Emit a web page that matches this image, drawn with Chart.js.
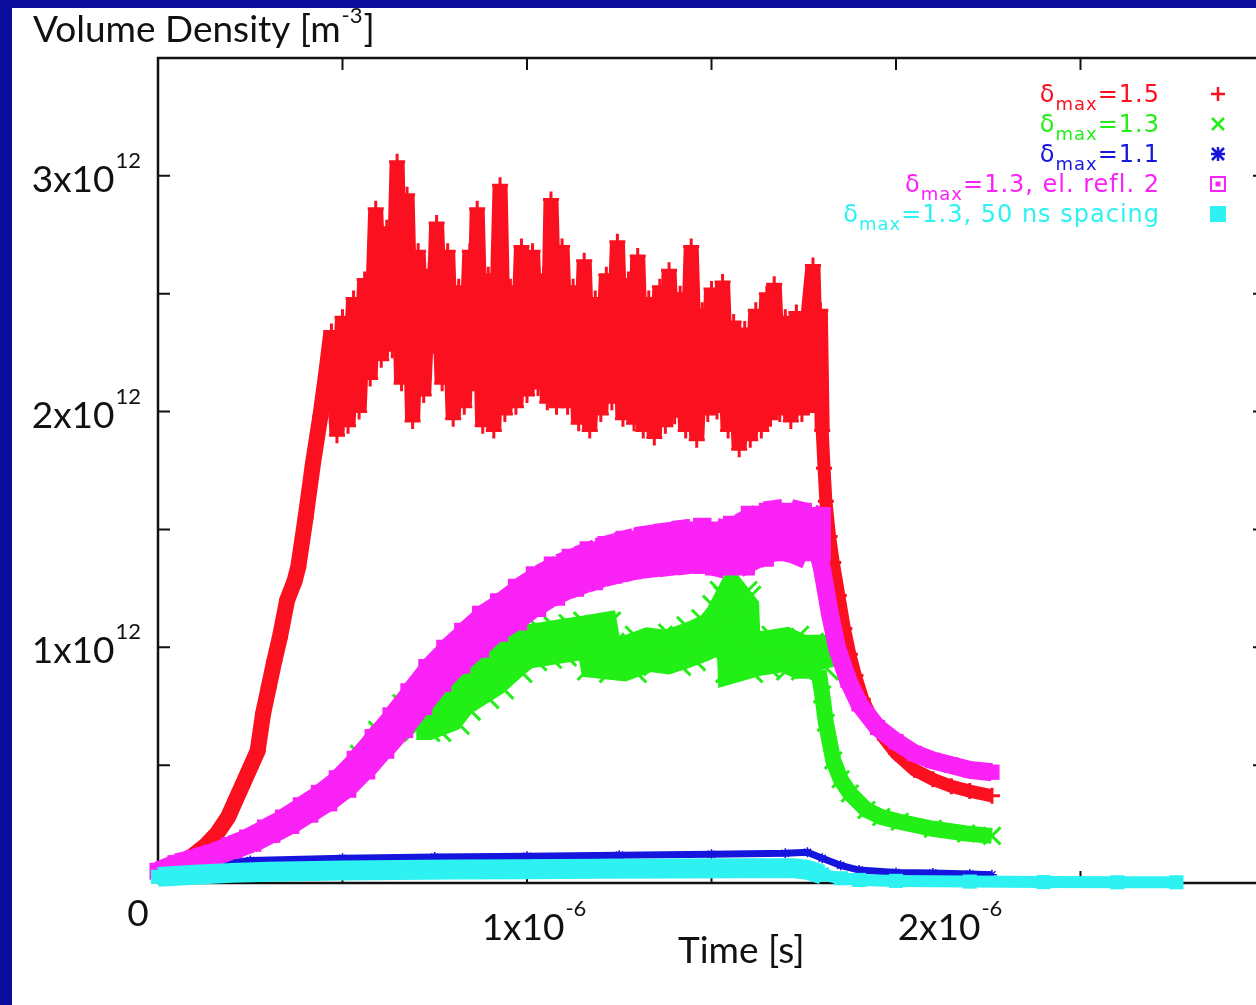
<!DOCTYPE html>
<html>
<head>
<meta charset="utf-8">
<title>Volume Density</title>
<script src="https://cdn.jsdelivr.net/npm/chart.js@4.4.1/dist/chart.umd.min.js"></script>
<style>
  html, body { margin: 0; padding: 0; background: #0b0b9c; overflow: hidden; }
  body { width: 1256px; height: 1005px; position: relative; }
  #panel { position: absolute; left: 12px; top: 8px; width: 1257px; height: 997px; background: #fff; }
  canvas { display: block; }
</style>
</head>
<body>
<div id="panel"><canvas id="chart" width="1257" height="997"></canvas></div>
<script>
// ================== Dados ==================
// tempo em unidades de 1e-6 s, densidade em unidades de 1e12 m^-3

// δmax=1.5 (vermelho, bem ruidoso no platô)
const delta15 = [
  [0.00, 0.05], [0.04, 0.07], [0.09, 0.11], [0.13, 0.16], [0.16, 0.21], [0.19, 0.28],
  [0.21, 0.35], [0.23, 0.42], [0.25, 0.49], [0.27, 0.56], [0.285, 0.72], [0.30, 0.83],
  [0.315, 0.94], [0.33, 1.04], [0.35, 1.20], [0.37, 1.28], [0.38, 1.34], [0.40, 1.55],
  [0.42, 1.78], [0.44, 1.98], [0.455, 2.15],
  [0.47, 2.34], [0.485, 1.90], [0.50, 2.40], [0.515, 1.94], [0.53, 2.48], [0.545, 2.00],
  [0.56, 2.56], [0.575, 2.14], [0.59, 2.86], [0.605, 2.22], [0.62, 2.78], [0.635, 2.26],
  [0.648, 3.06], [0.66, 2.12], [0.675, 2.92], [0.69, 1.96], [0.705, 2.68], [0.72, 2.07],
  [0.735, 2.60], [0.745, 2.28], [0.755, 2.80], [0.77, 2.12], [0.785, 2.68], [0.80, 1.97],
  [0.815, 2.53], [0.83, 2.02], [0.845, 2.68], [0.855, 2.12], [0.865, 2.86], [0.88, 1.94],
  [0.895, 2.58], [0.91, 1.92], [0.927, 2.96], [0.94, 1.99], [0.955, 2.53], [0.97, 2.02],
  [0.985, 2.70], [1.00, 2.07], [1.015, 2.68], [1.03, 2.10], [1.045, 2.58], [1.055, 2.04],
  [1.065, 2.90], [1.08, 2.02], [1.095, 2.70], [1.11, 2.02], [1.125, 2.53], [1.14, 1.95],
  [1.155, 2.64], [1.17, 1.92], [1.185, 2.48], [1.20, 1.99], [1.215, 2.58], [1.23, 2.04],
  [1.245, 2.72], [1.26, 1.97], [1.275, 2.56], [1.29, 1.95], [1.30, 2.66], [1.315, 1.92],
  [1.33, 2.48], [1.345, 1.89], [1.36, 2.53], [1.375, 1.94], [1.385, 2.60], [1.40, 1.98],
  [1.415, 2.50], [1.43, 1.92], [1.445, 2.70], [1.46, 1.88], [1.475, 2.43], [1.49, 1.99],
  [1.50, 2.52], [1.515, 2.00], [1.53, 2.55], [1.545, 1.92], [1.56, 2.38], [1.575, 1.84],
  [1.59, 2.35], [1.605, 1.88], [1.62, 2.43], [1.635, 1.92], [1.65, 2.50], [1.66, 1.97],
  [1.67, 2.54], [1.685, 1.99], [1.70, 2.40], [1.715, 1.96], [1.73, 2.42], [1.745, 1.99],
  [1.76, 2.38], [1.775, 2.62], [1.785, 2.00], [1.795, 2.43], [1.80, 1.92],
  [1.805, 1.76], [1.81, 1.62], [1.82, 1.47], [1.83, 1.36], [1.845, 1.22], [1.86, 1.08],
  [1.875, 0.97], [1.89, 0.88], [1.91, 0.78], [1.94, 0.68], [1.97, 0.61], [2.00, 0.55],
  [2.05, 0.48], [2.10, 0.44], [2.15, 0.41], [2.20, 0.39], [2.26, 0.37]
];

// δmax=1.3 (verde)
const delta13 = [
  [0.00, 0.05], [0.05, 0.08], [0.10, 0.10], [0.15, 0.12], [0.20, 0.15], [0.25, 0.18],
  [0.30, 0.22], [0.35, 0.26], [0.40, 0.31], [0.45, 0.36], [0.50, 0.43], [0.55, 0.54],
  [0.60, 0.64], [0.65, 0.69], [0.70, 0.70], [0.73, 0.70], [0.78, 0.73], [0.81, 0.79],
  [0.86, 0.84], [0.90, 0.88], [0.95, 0.95], [0.99, 1.00], [1.03, 1.01], [1.07, 1.02],
  [1.11, 1.03], [1.15, 1.04], [1.19, 1.05], [1.20, 0.96], [1.26, 0.95], [1.33, 0.99],
  [1.38, 0.98], [1.42, 1.00], [1.47, 1.03], [1.51, 1.06], [1.54, 1.12], [1.56, 1.18],
  [1.57, 1.16], [1.575, 0.95], [1.62, 0.97], [1.66, 0.98], [1.70, 0.99], [1.74, 0.96],
  [1.78, 0.96], [1.79, 0.90], [1.80, 0.80], [1.81, 0.68], [1.83, 0.52], [1.85, 0.44],
  [1.875, 0.38], [1.92, 0.31], [1.96, 0.28], [2.01, 0.26], [2.10, 0.23], [2.19, 0.21],
  [2.26, 0.20]
];

// δmax=1.1 (azul)
const delta11 = [
  [0.00, 0.04], [0.10, 0.07], [0.25, 0.095], [0.50, 0.105], [0.75, 0.11], [1.00, 0.113],
  [1.25, 0.118], [1.50, 0.122], [1.70, 0.126], [1.76, 0.13], [1.80, 0.105], [1.85, 0.075],
  [1.90, 0.055], [2.00, 0.045], [2.10, 0.042], [2.20, 0.038], [2.26, 0.035]
];

// δmax=1.3, el. refl. 2 (magenta)
const delta13refl = [
  [0.00, 0.05], [0.05, 0.08], [0.10, 0.10], [0.15, 0.12], [0.20, 0.15], [0.25, 0.18],
  [0.30, 0.22], [0.35, 0.26], [0.40, 0.31], [0.45, 0.36], [0.50, 0.42], [0.55, 0.50],
  [0.60, 0.59], [0.65, 0.68], [0.70, 0.78], [0.75, 0.88], [0.80, 0.96], [0.85, 1.03],
  [0.90, 1.10], [0.95, 1.15], [1.00, 1.21], [1.05, 1.26], [1.10, 1.30], [1.15, 1.33],
  [1.20, 1.36], [1.25, 1.38], [1.30, 1.40], [1.35, 1.41], [1.40, 1.42], [1.45, 1.43],
  [1.50, 1.43], [1.55, 1.41], [1.60, 1.45], [1.65, 1.49], [1.70, 1.50], [1.75, 1.48],
  [1.78, 1.46], [1.80, 1.33], [1.82, 1.15], [1.84, 1.00], [1.87, 0.86], [1.90, 0.76],
  [1.95, 0.66], [2.00, 0.60], [2.05, 0.55], [2.10, 0.52], [2.15, 0.50], [2.20, 0.48],
  [2.26, 0.47]
];

// δmax=1.3, 50 ns spacing (ciano)
const delta13spacing = [
  [0.00, 0.026], [0.10, 0.035], [0.20, 0.043], [0.30, 0.048], [0.50, 0.053], [0.80, 0.057],
  [1.00, 0.058], [1.20, 0.060], [1.40, 0.062], [1.60, 0.063], [1.72, 0.063], [1.76, 0.056],
  [1.80, 0.036], [1.85, 0.020], [1.90, 0.013], [2.00, 0.009], [2.20, 0.006], [2.40, 0.004],
  [2.60, 0.003], [2.76, 0.003]
];

const seriesNames = ["δmax=1.5", "δmax=1.3", "δmax=1.1", "δmax=1.3, el. refl. 2", "δmax=1.3, 50 ns spacing"];
const yTickValues = [1, 2, 3];
const xTickValues = [1, 2];
const yExponent = "12";
const xExponent = "-6";

// ================== Estilo ==================

const RED = "#fb1020";
const GREEN = "#22ef16";
const BLUE = "#1515de";
const MAGENTA = "#fa22f6";
const CYAN = "#2ef1f1";
const seriesColors = [RED, GREEN, BLUE, MAGENTA, CYAN];
const xLabelShift = [7, 54]; // os rótulos do eixo x não ficam centrados no tick

const BIG = "37px Lato";
const SMALL = "22px Lato";

// espessura das faixas (ruído grande durante o trem de pulsos)
const widthRed = (t) => (t < 0.46 ? 16 : t < 1.8 ? 15 : 13);
const widthMagenta = (t) => (t < 1.77 ? 20 + 25 * t : 18);
const widthGreen = (t) => (t < 0.7 ? 12 + 14 * t : t < 1.79 ? 44 : 16);
const widthCyan = (t) => (t < 1.78 ? 20 : 12);

const toXY = (arr) => arr.map(([x, y]) => ({ x, y }));
const tOf = (arr, c) => arr[c.p0DataIndex][0];
const tRaw = (c, fallback) => (c.raw ? c.raw.x : fallback);

// ================== Plugins de desenho ==================

function drawSup(ctx, base, sup, x, y, align, raise) {
  ctx.font = BIG;
  const wb = ctx.measureText(base).width;
  ctx.font = SMALL;
  const ws = ctx.measureText(sup).width;
  let x0 = x;
  if (align === "right") x0 = x - wb - ws - 1;
  if (align === "center") x0 = x - (wb + ws + 1) / 2;
  ctx.textAlign = "left";
  ctx.font = BIG;
  ctx.fillText(base, x0, y);
  ctx.font = SMALL;
  ctx.fillText(sup, x0 + wb + 1, y - raise);
}

function drawLegendMarker(ctx, i, x, y) {
  ctx.save();
  ctx.strokeStyle = seriesColors[i];
  ctx.fillStyle = seriesColors[i];
  ctx.lineWidth = 2.5;
  ctx.beginPath();
  if (i === 0) {
    ctx.moveTo(x - 7, y); ctx.lineTo(x + 7, y);
    ctx.moveTo(x, y - 7); ctx.lineTo(x, y + 7);
    ctx.stroke();
  } else if (i === 1) {
    ctx.moveTo(x - 6, y - 6); ctx.lineTo(x + 6, y + 6);
    ctx.moveTo(x + 6, y - 6); ctx.lineTo(x - 6, y + 6);
    ctx.stroke();
  } else if (i === 2) {
    ctx.moveTo(x - 6, y - 6); ctx.lineTo(x + 6, y + 6);
    ctx.moveTo(x + 6, y - 6); ctx.lineTo(x - 6, y + 6);
    ctx.moveTo(x - 7, y); ctx.lineTo(x + 7, y);
    ctx.moveTo(x, y - 7); ctx.lineTo(x, y + 7);
    ctx.stroke();
  } else if (i === 3) {
    ctx.lineWidth = 2;
    ctx.strokeRect(x - 7, y - 7, 14, 14);
    ctx.fillRect(x - 2.5, y - 2.5, 5, 5);
  } else {
    ctx.fillRect(x - 8, y - 8, 16, 16);
  }
  ctx.restore();
}

const framePlugin = {
  id: "frame",
  beforeDatasetsDraw(chart) {
    const { ctx, chartArea: a, scales } = chart;
    const x = scales.x, y = scales.y;
    ctx.save();
    ctx.strokeStyle = "#111";
    ctx.lineWidth = 2.5;
    ctx.beginPath();
    ctx.moveTo(a.right, a.bottom);
    ctx.lineTo(a.left, a.bottom);
    ctx.lineTo(a.left, a.top);
    ctx.lineTo(a.right, a.top);
    ctx.lineTo(a.right, a.bottom);
    ctx.stroke();
    ctx.lineWidth = 2;
    ctx.beginPath();
    for (let v = 0.5; v < 3.5; v += 0.5) {
      const py = y.getPixelForValue(v);
      ctx.moveTo(a.left, py); ctx.lineTo(a.left + 12, py);
      ctx.moveTo(a.right, py); ctx.lineTo(a.right - 12, py);
    }
    for (let t = 0.5; t < 3; t += 0.5) {
      const px = x.getPixelForValue(t);
      ctx.moveTo(px, a.top); ctx.lineTo(px, a.top + 12);
      ctx.moveTo(px, a.bottom); ctx.lineTo(px, a.bottom - 12);
    }
    ctx.stroke();
    ctx.restore();
  },
  afterDraw(chart) {
    const { ctx, chartArea: a, scales } = chart;
    ctx.save();
    ctx.fillStyle = "#111";
    ctx.textBaseline = "alphabetic";

    // título do eixo y (no topo)
    ctx.font = BIG;
    ctx.textAlign = "left";
    const t1 = "Volume Density [m";
    ctx.fillText(t1, 21, 34);
    const w1 = ctx.measureText(t1).width;
    ctx.font = SMALL;
    ctx.fillText("-3", 21 + w1 + 1, 15);
    const w2 = ctx.measureText("-3").width;
    ctx.font = BIG;
    ctx.fillText("]", 21 + w1 + w2 + 2, 34);

    // rótulos do eixo y
    yTickValues.forEach((v) => {
      const py = scales.y.getPixelForValue(v);
      drawSup(ctx, v + "x10", yExponent, a.left - 17, py + 16, "right", 24);
    });

    // zero comum
    ctx.font = BIG;
    ctx.textAlign = "center";
    ctx.fillText("0", a.left - 20, a.bottom + 43);

    // rótulos do eixo x
    xTickValues.forEach((v, i) => {
      const px = scales.x.getPixelForValue(v);
      drawSup(ctx, v + "x10", xExponent, px + xLabelShift[i], a.bottom + 57, "center", 24);
    });

    ctx.font = BIG;
    ctx.textAlign = "left";
    ctx.fillText("Time [s]", a.left + 520, a.bottom + 80);

    // legenda
    const right = 1148;
    ctx.letterSpacing = "1px";
    seriesNames.forEach((name, i) => {
      const base = 94 + 30 * i;
      const [sym, rest] = [name.slice(0, 1), name.slice(4)];
      ctx.font = "24px 'DejaVu Sans'";
      const ws = ctx.measureText(sym).width;
      const wr = ctx.measureText(rest).width;
      ctx.font = "18px 'DejaVu Sans'";
      const wm = ctx.measureText("max").width;
      const x0 = right - ws - wm - wr;
      ctx.fillStyle = seriesColors[i];
      ctx.textAlign = "left";
      ctx.font = "24px 'DejaVu Sans'";
      ctx.fillText(sym, x0, base);
      ctx.fillText(rest, x0 + ws + wm, base);
      ctx.font = "18px 'DejaVu Sans'";
      ctx.fillText("max", x0 + ws, base + 8);
      drawLegendMarker(ctx, i, 1206, base - 8);
    });
    ctx.restore();
  },
};

// ================== Gráfico ==================

const ctx = document.getElementById("chart").getContext("2d");

new Chart(ctx, {
  type: "scatter",
  data: {
    datasets: [
      {
        label: seriesNames[4],
        data: toXY(delta13spacing),
        order: 0,
        showLine: true,
        borderColor: CYAN,
        backgroundColor: CYAN,
        segment: { borderWidth: (c) => widthCyan(tOf(delta13spacing, c)) },
        pointStyle: "rect",
        pointRadius: 10,
        pointBorderWidth: 0,
        clip: false,
      },
      {
        label: seriesNames[3],
        data: toXY(delta13refl),
        order: 1,
        showLine: true,
        borderColor: MAGENTA,
        backgroundColor: MAGENTA,
        segment: { borderWidth: (c) => widthMagenta(tOf(delta13refl, c)) },
        pointStyle: "rect",
        pointRadius: (c) => (0.85 * widthMagenta(tRaw(c, 0))) / Math.SQRT2,
        pointBorderWidth: 0,
        clip: false,
      },
      {
        label: seriesNames[0],
        data: toXY(delta15),
        order: 2,
        showLine: true,
        borderColor: RED,
        backgroundColor: RED,
        segment: { borderWidth: (c) => widthRed(tOf(delta15, c)) },
        pointStyle: "cross",
        pointRadius: 8,
        pointBorderWidth: 3,
        pointBorderColor: RED,
        clip: false,
      },
      {
        label: seriesNames[1],
        data: toXY(delta13),
        order: 3,
        showLine: true,
        borderColor: GREEN,
        backgroundColor: GREEN,
        segment: { borderWidth: (c) => widthGreen(tOf(delta13, c)) },
        pointStyle: "crossRot",
        pointRadius: (c) => 0.75 * widthGreen(tRaw(c, 0)),
        pointBorderWidth: 3,
        pointBorderColor: GREEN,
        clip: false,
      },
      {
        label: seriesNames[2],
        data: toXY(delta11),
        order: 4,
        showLine: true,
        borderColor: BLUE,
        backgroundColor: BLUE,
        borderWidth: 7,
        pointStyle: "star",
        pointRadius: 5,
        pointBorderWidth: 1.5,
        pointBorderColor: BLUE,
        clip: false,
      },
    ],
  },
  options: {
    responsive: false,
    animation: false,
    events: [],
    layout: { autoPadding: false, padding: { left: 146, top: 50, right: 4, bottom: 122 } },
    scales: {
      x: { type: "linear", min: 0, max: 3, display: false },
      y: { type: "linear", min: 0, max: 3.5, display: false },
    },
    plugins: {
      legend: { display: false },
      tooltip: { enabled: false },
    },
  },
  plugins: [framePlugin],
});
</script>
</body>
</html>
